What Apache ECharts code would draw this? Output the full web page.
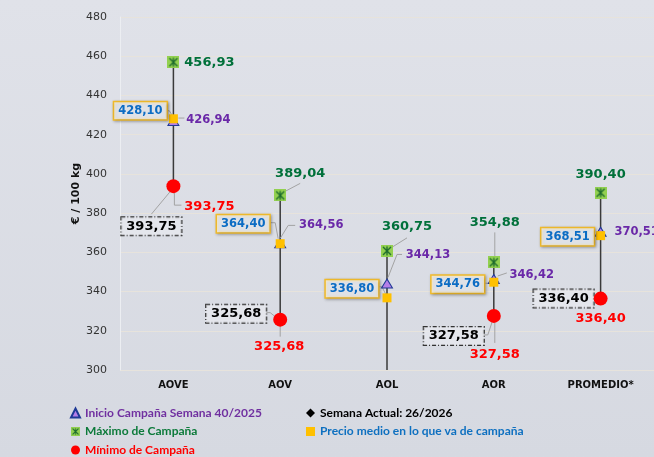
<!DOCTYPE html>
<html>
<head>
<meta charset="utf-8">
<script src="https://cdn.jsdelivr.net/npm/echarts@6/dist/echarts.min.js"></script>
<style>
html, body { margin: 0; padding: 0; background: #dcdfe6; }
#chart { width: 654px; height: 457px; }
</style>
</head>
<body>
<div id="chart"></div>
<script>
// categorías del eje X
const categorias = ['AOVE', 'AOV', 'AOL', 'AOR', 'PROMEDIO*'];
// €/100 kg
const inicioCampana = [426.94, 364.56, 344.13, 346.42, 370.51];
const maximoCampana = [456.93, 389.04, 360.75, 354.88, 390.40];
const minimoCampana = [393.75, 325.68, null, 327.58, 336.40]; // AOL fuera de escala
const semanaActual  = [393.75, 325.68, null, 327.58, 336.40];
const precioMedio   = [428.10, 364.40, 336.80, 344.76, 368.51];
// ticks del eje Y
const ejeY = { min: 300, max: 480, interval: 20 };

// desplazamiento de etiquetas (px, relativo al símbolo)
const offMax    = [[36, 0], [20, -22], [20, -24], [1, -40], [0, -18]];
const offInicio = [[35, -1], [41, -18], [41, -28], [38, -4], [36, 0]];
const offPrecio = [[-33, -8], [-37, -20], [-35, -9], [-36, 2], [-33, 1]];
const offMin    = [[36, 20], [-1, 27], null, [1, 39], [0, 20]];
const offActual = [[-22, 40], [-44, -6], null, [-40, 20], [-37, 0]];

// líneas guía: serie, categoría, puntos relativos al símbolo (px)
const guias = [
  [precioMedio, 0, [[-7, -8], [-4, -8], [-1, -3]]],
  [inicioCampana, 0, [[5, -3], [11, -3]]],
  [minimoCampana, 0, [[1, 6], [1, 19], [8, 19]]],
  [semanaActual, 0, [[-2, 4], [-22, 28]]],
  [maximoCampana, 1, [[3, -3], [20, -12]]],
  [precioMedio, 1, [[-10, -21], [-5, -21], [-2, -5]]],
  [inicioCampana, 1, [[0, -5], [8, -18], [15, -18]]],
  [semanaActual, 1, [[-14, -7], [-10, -7], [-5, -3]]],
  [minimoCampana, 1, [[0, 6], [0, 17]]],
  [maximoCampana, 2, [[4, -3], [20, -13]]],
  [inicioCampana, 2, [[1, -6], [10, -29], [15, -29]]],
  [precioMedio, 2, [[-9, -11], [-5, -11], [-1, -3]]],
  [maximoCampana, 3, [[1, -30], [1, -6]]],
  [inicioCampana, 3, [[4, -3], [13, -6]]],
  [precioMedio, 3, [[-11, 1], [-5, 1]]],
  [minimoCampana, 3, [[1, 6], [1, 27]]],
  [semanaActual, 3, [[-11, 19], [-6, 19], [-1, 4]]]
];

const fmt = v => v.toFixed(2).replace('.', ',');
const fuente = 'DejaVu Sans';

// icono del máximo: cuadrado verde con aspa
function iconoMaximo() {
  const c = document.createElement('canvas');
  c.width = 24; c.height = 24;
  const g = c.getContext('2d');
  g.fillStyle = '#92d050';
  g.fillRect(0, 0, 24, 24);
  g.strokeStyle = '#1d6b2d';
  g.lineWidth = 2.6;
  g.beginPath();
  g.moveTo(4, 4); g.lineTo(20, 20);
  g.moveTo(20, 4); g.lineTo(4, 20);
  g.moveTo(12, 3); g.lineTo(12, 21);
  g.stroke();
  return 'image://' + c.toDataURL();
}

function serie(nombre, valores, offsets, simbolo, tam, itemStyle, etiqueta, z) {
  return {
    name: nombre,
    type: 'scatter',
    z: z,
    symbol: simbolo,
    symbolSize: tam,
    itemStyle: Object.assign({ opacity: 1 }, itemStyle),
    emphasis: { disabled: true },
    label: Object.assign({
      show: true,
      position: 'inside',
      fontFamily: fuente,
      fontWeight: 'bold',
      opacity: 1,
      textBorderWidth: 0,
      textBorderColor: 'transparent',
      formatter: p => fmt(p.value)
    }, etiqueta),
    data: valores.map((v, i) => v == null ? '-' : { value: v, label: { offset: offsets[i] } })
  };
}

const chart = echarts.init(document.getElementById('chart'));
const leyendaTexto = { fontFamily: 'Lato', fontWeight: 'bold', fontSize: 12, lineHeight: 14 };
const option = {
  animation: false,
  backgroundColor: new echarts.graphic.LinearGradient(0, 0, 0, 1, [
    { offset: 0, color: '#e0e2e9' },
    { offset: 1, color: '#d6d9e1' }
  ]),
  grid: { left: 120, right: -1, top: 17, bottom: 87 },
  xAxis: {
    type: 'category',
    data: categorias,
    axisLine: { show: false },
    axisTick: { show: false },
    axisLabel: { margin: 10, fontFamily: fuente, fontWeight: 'bold', fontSize: 10, color: '#111' }
  },
  yAxis: {
    type: 'value',
    min: ejeY.min,
    max: ejeY.max,
    interval: ejeY.interval,
    name: '€ / 100 kg',
    nameLocation: 'middle',
    nameGap: 38,
    nameMoveOverlap: false,
    nameTextStyle: { fontFamily: fuente, fontWeight: 'bold', fontSize: 11, color: '#111' },
    axisLine: { show: true, lineStyle: { color: '#eceef2' } },
    axisTick: { show: false },
    axisLabel: { margin: 13, fontFamily: fuente, fontSize: 11, color: '#333' },
    splitLine: { lineStyle: { color: '#e7e3dc' } }
  },
  legend: [
    {
      orient: 'vertical', left: 70, top: 406, height: 60, padding: 0,
      itemGap: 4.5, itemWidth: 9, itemHeight: 9,
      textStyle: leyendaTexto,
      data: [
        { name: 'Inicio Campaña Semana 40/2025', textStyle: { color: '#7030a0' } },
        { name: 'Máximo de Campaña', textStyle: { color: '#0c7a3a' } },
        { name: 'Mínimo de Campaña', textStyle: { color: '#ff0000' } }
      ]
    },
    {
      orient: 'vertical', left: 306, top: 406, height: 60, padding: 0,
      itemGap: 4.5, itemWidth: 9, itemHeight: 9,
      textStyle: leyendaTexto,
      data: [
        { name: 'Semana Actual: 26/2026', textStyle: { color: '#000' } },
        { name: 'Precio medio en lo que va de campaña', textStyle: { color: '#0e70c0' } }
      ]
    }
  ],
  series: [
    {
      name: 'rango',
      type: 'custom',
      z: 1,
      silent: true,
      clip: true,
      data: maximoCampana.map((v, i) => [i, v, minimoCampana[i] == null ? ejeY.min : minimoCampana[i]]),
      encode: { x: 0, y: [1, 2] },
      renderItem: (params, api) => {
        const a = api.coord([api.value(0), api.value(1)]);
        const b = api.coord([api.value(0), api.value(2)]);
        return {
          type: 'line',
          shape: { x1: a[0], y1: a[1], x2: b[0], y2: b[1] },
          style: { stroke: '#3a3a3a', lineWidth: 1.5 }
        };
      }
    },
    {
      name: 'guias',
      type: 'custom',
      z: 2,
      silent: true,
      data: guias.map((g, k) => [g[1], g[0][g[1]], k]),
      encode: { x: 0, y: 1 },
      renderItem: (params, api) => {
        const c = api.coord([api.value(0), api.value(1)]);
        const pts = guias[api.value(2)][2].map(o => [c[0] + o[0], c[1] + o[1]]);
        return {
          type: 'polyline',
          shape: { points: pts },
          style: { stroke: '#a3a3a3', lineWidth: 1, fill: null }
        };
      }
    },
    serie('Inicio Campaña Semana 40/2025', inicioCampana, offInicio, 'triangle', [11, 9],
      { color: '#b57ee8', borderColor: '#1f3a96', borderWidth: 1 },
      { color: '#6a28a8', fontSize: 11.5 }, 3),
    serie('Máximo de Campaña', maximoCampana, offMax, iconoMaximo(), 12,
      { color: '#92d050' },
      { color: '#00703a', fontSize: 13 }, 4),
    serie('Semana Actual: 26/2026', semanaActual, offActual, 'diamond', 8,
      { color: '#000' },
      {
        color: '#000', fontSize: 13, padding: [3, 5, 2, 5],
        backgroundColor: 'rgba(232,234,240,0.7)',
        borderColor: '#333', borderWidth: 1, borderType: [4, 2, 1, 2]
      }, 3),
    serie('Mínimo de Campaña', minimoCampana, offMin, 'circle', 14,
      { color: '#ff0000', borderWidth: 0 },
      { color: '#ff0000', fontSize: 13 }, 4),
    serie('Precio medio en lo que va de campaña', precioMedio, offPrecio, 'rect', 9,
      { color: '#ffc000' },
      {
        color: '#0b6cc4', fontSize: 11.5, padding: [3, 4, 2, 4],
        backgroundColor: 'rgba(238,240,245,0.8)',
        borderColor: '#f2bc2c', borderWidth: 1.5,
        shadowBlur: 3, shadowColor: 'rgba(0,0,0,0.3)', shadowOffsetX: 1, shadowOffsetY: 1
      }, 5)
  ]
};
chart.setOption(option);
</script>
</body>
</html>
